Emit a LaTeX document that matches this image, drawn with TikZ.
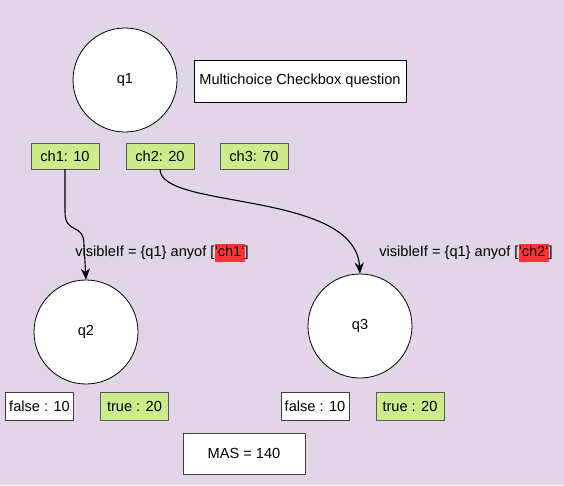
\documentclass[tikz,border=0pt]{standalone}
\usepackage{fontspec}
\setmainfont{Liberation Sans}
\usetikzlibrary{arrows.meta}
\definecolor{bgpurple}{HTML}{E1D5E7}
\definecolor{optgreen}{HTML}{CDEB8B}
\definecolor{hired}{HTML}{FF3333}
\newcommand{\hl}[1]{{\setlength\fboxsep{0.5pt}\colorbox{hired}{\strut#1}}}

\begin{document}
\begin{tikzpicture}[x=1pt,y=-1pt,line join=round,font=\fontsize{14.6}{17}\selectfont]
\tikzset{state/.style={circle,draw,thick,fill=white,minimum size=104pt,inner sep=0pt},
  opt/.style={draw=black!65,fill=optgreen,minimum width=68pt,minimum height=26pt,inner sep=0pt},
  ans/.style={draw=black!75,fill=white,minimum width=68pt,minimum height=28pt,inner sep=0pt},
  cond/.style={inner sep=1pt},
  link/.style={line width=1.1pt,-{Stealth[length=11pt,width=9pt,inset=3.5pt]}}}
\fill[bgpurple] (0,0) rectangle (564,485);
% questions
\node[state] (q1) at (125,80) {q1};
\node[state] (q2) at (86,332) {q2};
\node[state] (q3) at (360,326) {q3};
\node[draw,fill=white,minimum width=212pt,minimum height=42pt] (title) at (300,81) {Multichoice Checkbox question};
% choices
\node[opt] (ch1) at (65,156) {ch1: 10};
\node[opt] (ch2) at (160,156) {ch2: 20};
\node[opt] (ch3) at (254,156) {ch3: 70};
% answers
\node[ans] (f2) at (39.5,406) {false : 10};
\node[opt,minimum height=28pt] (t2) at (134.5,406) {true : 20};
\node[ans] (f3) at (315,406) {false : 10};
\node[opt,minimum height=28pt] (t3) at (410,406) {true : 20};
\node[ans,minimum width=122pt,minimum height=41pt] (mas) at (244,453.5) {MAS = 140};
% conditions
\node[cond] (c1) at (162,253) {visibleIf = \{q1\} anyof [\hl{\textquotesingle ch1\textquotesingle}]};
\node[cond] (c2) at (466,253) {visibleIf = \{q1\} anyof [\hl{\textquotesingle ch2\textquotesingle}]};
\draw[link] (ch1.south) -- (65,212) .. controls (65,235) and (84,222) .. (84,245) -- (q2.north);
\draw[link] (ch2.south) .. controls (160,210) and (355,190) .. (q3.north);
\end{tikzpicture}
\end{document}
